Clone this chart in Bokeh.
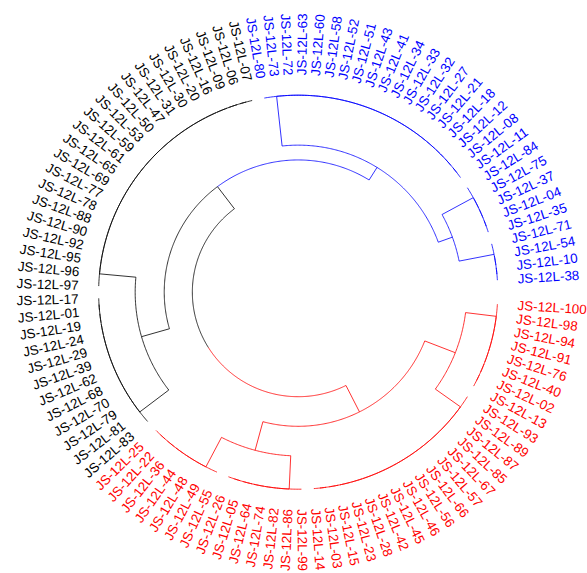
import numpy as np
from bokeh.plotting import figure
from bokeh.models import Range1d, ColumnDataSource
from bokeh.core.properties import value
from bokeh.embed import file_html
from bokeh.resources import INLINE

# Leaf groups, listed clockwise starting just below 3 o'clock
red_a1 = ["JS-12L-100", "JS-12L-98", "JS-12L-94", "JS-12L-91", "JS-12L-76", "JS-12L-40",
          "JS-12L-02", "JS-12L-13"]
red_a2 = ["JS-12L-93", "JS-12L-89", "JS-12L-87", "JS-12L-85", "JS-12L-67", "JS-12L-57",
          "JS-12L-66", "JS-12L-56", "JS-12L-46", "JS-12L-45", "JS-12L-42", "JS-12L-28",
          "JS-12L-23", "JS-12L-15", "JS-12L-03", "JS-12L-14"]
red_b1 = ["JS-12L-99", "JS-12L-86", "JS-12L-82", "JS-12L-74", "JS-12L-64", "JS-12L-05",
          "JS-12L-26"]
red_b2 = ["JS-12L-55", "JS-12L-49", "JS-12L-48", "JS-12L-44", "JS-12L-36", "JS-12L-22",
          "JS-12L-25"]
black_1 = ["JS-12L-83", "JS-12L-81", "JS-12L-79", "JS-12L-70", "JS-12L-68", "JS-12L-62",
           "JS-12L-39", "JS-12L-29", "JS-12L-24", "JS-12L-19", "JS-12L-01", "JS-12L-17"]
black_2 = ["JS-12L-97", "JS-12L-96", "JS-12L-95", "JS-12L-92", "JS-12L-90", "JS-12L-88",
           "JS-12L-78", "JS-12L-77", "JS-12L-69", "JS-12L-65", "JS-12L-61", "JS-12L-59",
           "JS-12L-53", "JS-12L-50", "JS-12L-47", "JS-12L-31", "JS-12L-30", "JS-12L-20",
           "JS-12L-16", "JS-12L-09", "JS-12L-06", "JS-12L-07"]
blue_1 = ["JS-12L-80", "JS-12L-73", "JS-12L-72", "JS-12L-63", "JS-12L-60", "JS-12L-58",
          "JS-12L-52", "JS-12L-51", "JS-12L-43", "JS-12L-41", "JS-12L-34", "JS-12L-33",
          "JS-12L-32", "JS-12L-27", "JS-12L-21", "JS-12L-18", "JS-12L-12", "JS-12L-08",
          "JS-12L-11"]
blue_2 = ["JS-12L-84", "JS-12L-75", "JS-12L-37", "JS-12L-04", "JS-12L-35"]
blue_3 = ["JS-12L-71", "JS-12L-54", "JS-12L-10", "JS-12L-38"]

# Merge heights of the upper nodes (leaf groups join at height 0)
h_root = 1.00
h_black_blue = 0.70
h_blue = 0.54
h_blue_23 = 0.38
h_black = 0.39
h_red = 0.68
h_red_a = 0.33
h_red_b = 0.36

cluster_colors = {"red": "#FF0000", "black": "#000000", "blue": "#0000FF"}
clusters = [("red", red_a1 + red_a2 + red_b1 + red_b2),
            ("black", black_1 + black_2),
            ("blue", blue_1 + blue_2 + blue_3)]

leaves = [lab for _, labs in clusters for lab in labs]
leaf_color = {lab: cluster_colors[c] for c, labs in clusters for lab in labs}
leaf_index = {lab: i for i, lab in enumerate(leaves)}


def node(h, a, b):
    return {"h": h, "kids": [a, b]}


def ladder(labels):
    t = labels[-1]
    for lab in reversed(labels[:-1]):
        t = node(0.0, lab, t)
    return t


tree = node(h_root,
            node(h_red,
                 node(h_red_a, ladder(red_a1), ladder(red_a2)),
                 node(h_red_b, ladder(red_b1), ladder(red_b2))),
            node(h_black_blue,
                 node(h_black, ladder(black_1), ladder(black_2)),
                 node(h_blue, ladder(blue_1),
                      node(h_blue_23, ladder(blue_2), ladder(blue_3)))))

# Polar layout
N = len(leaves)
GAP = 7.0
STEP = (360.0 - GAP) / (N - 1)
R0 = 197.0
R_ROOT = 104.5
R_LAB = 217.0


def theta(pos):
    return np.deg2rad(-(GAP / 2 + pos * STEP))


def radius(h):
    return R0 - (R0 - R_ROOT) * h / h_root


xs, ys, cols = [], [], []


def arc(r, p1, p2, color):
    t1, t2 = theta(p1), theta(p2)
    n = max(2, int(abs(np.rad2deg(t2 - t1)) / 0.5) + 2)
    t = np.linspace(t1, t2, n)
    xs.append(list(r * np.cos(t)))
    ys.append(list(r * np.sin(t)))
    cols.append(color)


def radial(p, r1, r2, color):
    t = theta(p)
    xs.append([r1 * np.cos(t), r2 * np.cos(t)])
    ys.append([r1 * np.sin(t), r2 * np.sin(t)])
    cols.append(color)


def layout(t):
    if isinstance(t, str):
        return leaf_index[t], 0.0, leaf_color[t]
    info = [layout(k) for k in t["kids"]]
    pos = sum(i[0] for i in info) / len(info)
    kid_cols = {i[2] for i in info}
    col = kid_cols.pop() if len(kid_cols) == 1 else "#000000"
    r = radius(t["h"])
    for kp, kh, kc in info:
        if abs(kp - pos) > 1e-9:
            arc(r, pos, kp, kc)
        rk = radius(kh)
        if abs(rk - r) > 1e-9:
            radial(kp, r, rk, kc)
    return pos, t["h"], col


layout(tree)

# Labels
lx, ly, ang, aln, lc = [], [], [], [], []
for i, lab in enumerate(leaves):
    t = theta(i)
    lx.append(R_LAB * np.cos(t))
    ly.append(R_LAB * np.sin(t))
    deg = np.rad2deg(t) % 360
    if 90 < deg < 270:
        ang.append(t + np.pi)
        aln.append("right")
    else:
        ang.append(t)
        aln.append("left")
    lc.append(leaf_color[lab])

W, H = 587, 573
CX, CY = 297.7, 291.7
XS = 1.013

p = figure(width=W, height=H, output_backend="svg", toolbar_location=None,
           x_range=Range1d(-CX / XS, (W - CX) / XS), y_range=Range1d(-(H - CY), CY),
           x_axis_location=None, y_axis_location=None, min_border=0)
p.grid.visible = False
p.outline_line_color = None
p.background_fill_color = "white"
p.border_fill_color = "white"

p.multi_line(xs="xs", ys="ys", line_color="c", line_width=1, line_alpha=0.8,
             source=ColumnDataSource(dict(xs=xs, ys=ys, c=cols)))

p.text(x="x", y="y", text="t", angle="a", text_align="al", text_color="c",
       text_baseline="middle", text_font=value("Liberation Sans"), text_font_size="13.4px",
       source=ColumnDataSource(dict(x=lx, y=ly, t=leaves, a=ang, al=aln, c=lc)))

open("out.html", "w").write(file_html(p, INLINE))
